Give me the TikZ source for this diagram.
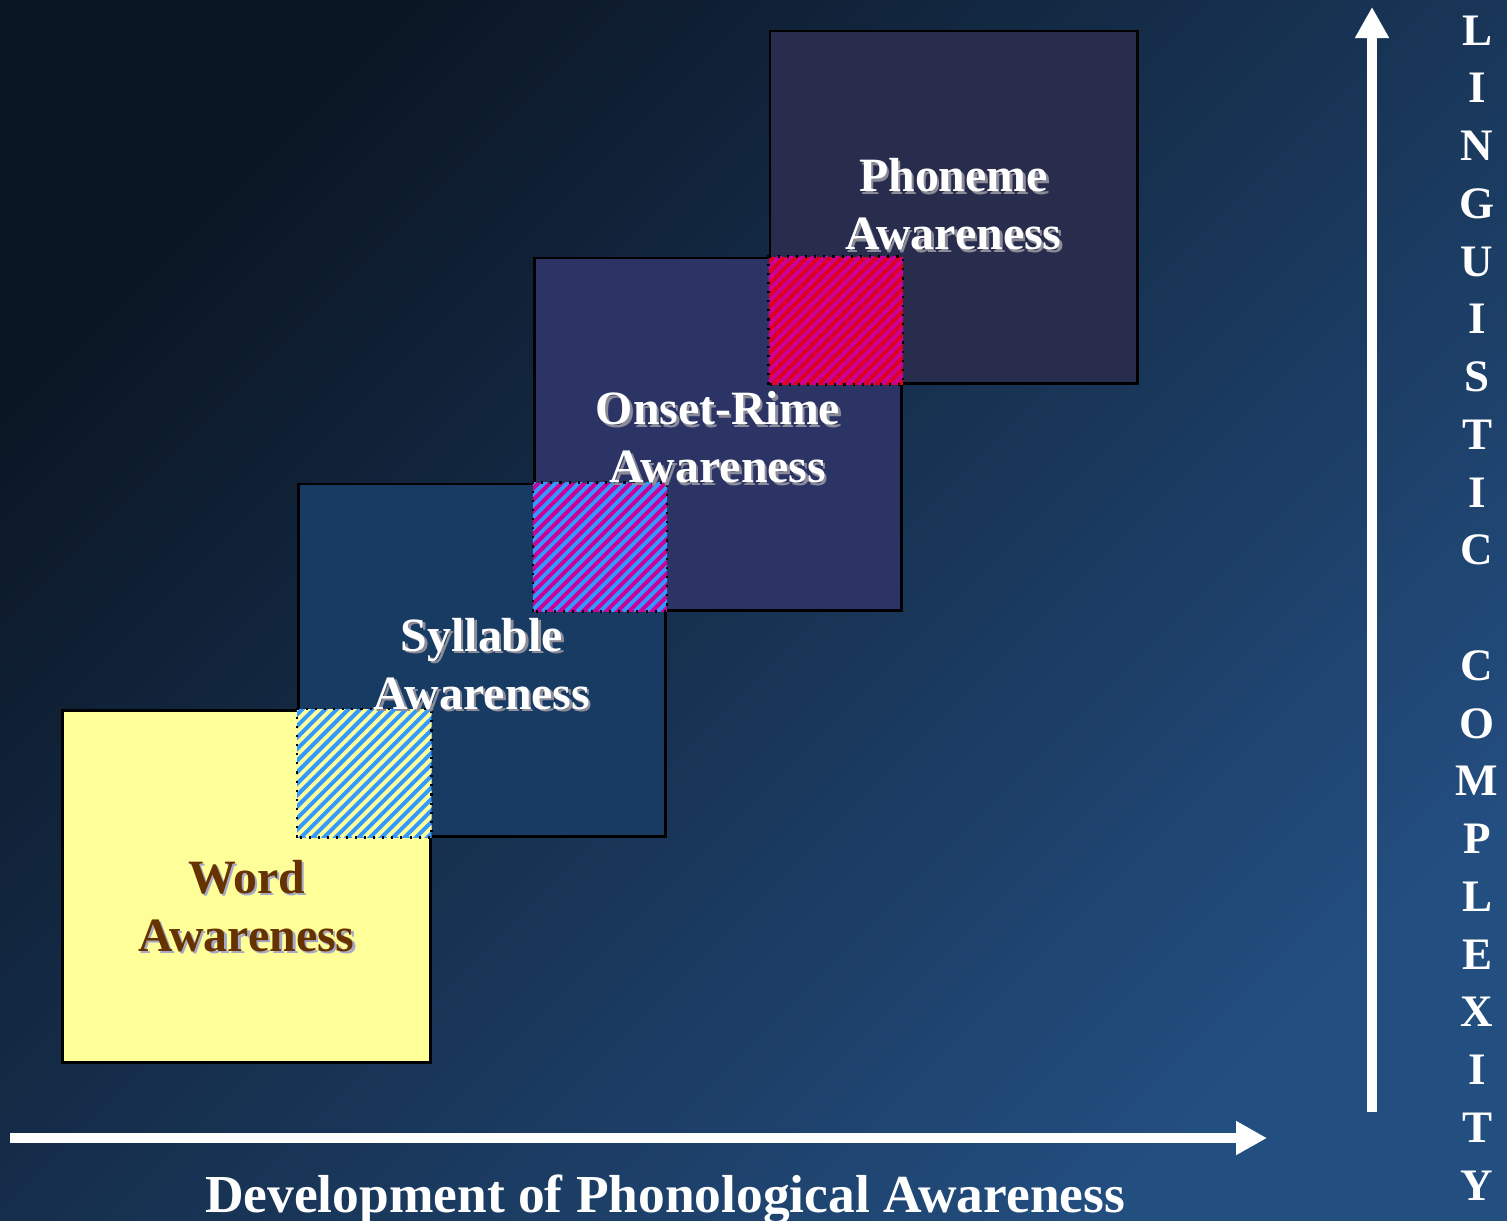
\documentclass[tikz,border=0pt]{standalone}
\usepackage{fontspec}
\setmainfont{Liberation Serif}
\usetikzlibrary{arrows.meta}
\definecolor{bgTop}{HTML}{0B1624}
\definecolor{bgMid}{HTML}{19395F}
\definecolor{bgBottom}{HTML}{234E80}
\definecolor{wordFill}{HTML}{FFFF99}
\definecolor{syllableFill}{HTML}{173B63}
\definecolor{onsetFill}{HTML}{2B3465}
\definecolor{phonemeFill}{HTML}{282D4E}
\definecolor{hatchBlue}{HTML}{3399FF}
\definecolor{hatchMagenta}{HTML}{CC0099}
\definecolor{hatchRed}{HTML}{DD0022}
\definecolor{wordText}{HTML}{663300}
\definecolor{wordShadow}{HTML}{A6A8C8}
\definecolor{labelShadow}{HTML}{8C8C99}
\newcommand{\boxWidth}{3.67cm}
\newcommand{\boxHeight}{3.52cm}
\newcommand{\stripeGap}{0.115cm}
\newcommand{\letterStep}{57.75}
% overlap of two boxes: upper box, lower box, base colour, stripe colour
\newcommand{\hatchOverlap}[4]{%
  \begin{scope}
    \clip (#1.south west) rectangle (#2.north east);
    \fill[#3] (#1.south west) rectangle (#2.north east);
    \foreach \k in {0,...,26}
      \draw[#4, line width=1.1pt] ([xshift=\k*\stripeGap-1.4cm]#1.south west) -- ++(150,-150);
  \end{scope}
  \draw[black, dotted, line width=0.6pt] (#1.south west) rectangle (#2.north east);}
% label with drop shadow: name, position, text, colour, shadow colour
\newcommand{\boxLabel}[5]{%
  \node[boxText, text=#5, xshift=0.025cm, yshift=-0.025cm] (#1-shadow) at #2 {#3};
  \node[boxText, text=#4] (#1) at #2 {#3};}

\tikzset{
  awareBox/.style={draw=black, line width=0.8pt, minimum width=\boxWidth,
    minimum height=\boxHeight, inner sep=0pt},
  boxText/.style={font=\fontsize{13.6}{16.5}\selectfont\bfseries, align=center, inner sep=0pt},
  axisArrow/.style={white, line width=0.1cm, -{Triangle[length=0.31cm,width=0.32cm]}},
  axisLetter/.style={white, font=\fontsize{12.8}{14}\selectfont\bfseries, inner sep=0pt},
  axisTitle/.style={white, font=\fontsize{15.2}{18}\selectfont\bfseries, inner sep=0pt}
}

\begin{document}
\begin{tikzpicture}[x=0.01cm, y=-0.01cm]
  \shade[top color=bgTop, middle color=bgMid, bottom color=bgBottom, shading angle=45]
    (0,0) rectangle (1507,1220);
  \useasboundingbox (0,0) rectangle (1507,1220);

  \node[awareBox, fill=phonemeFill] (phoneme) at (953.5,207) {};
  \node[awareBox, fill=onsetFill] (onset) at (718,434) {};
  \node[awareBox, fill=syllableFill] (syllable) at (482,660) {};
  \node[awareBox, fill=wordFill] (word) at (246.5,886.5) {};

  \hatchOverlap{syllable}{word}{hatchBlue}{wordFill}
  \hatchOverlap{onset}{syllable}{hatchMagenta}{hatchBlue}
  \hatchOverlap{phoneme}{onset}{hatchRed}{hatchMagenta}

  \boxLabel{phonemeText}{([yshift=0.025cm]phoneme.center)}{Phoneme\\Awareness}{white}{labelShadow}
  \boxLabel{onsetText}{([yshift=-0.035cm]onset.center)}{Onset-Rime\\Awareness}{white}{labelShadow}
  \boxLabel{syllableText}{([yshift=-0.04cm]syllable.center)}{Syllable\\Awareness}{white}{labelShadow}
  \boxLabel{wordText}{([yshift=-0.195cm]word.center)}{Word\\Awareness}{wordText}{wordShadow}

  \coordinate (xstart) at (10,1138);
  \coordinate (xend) at (1267,1138);
  \coordinate (ystart) at (1372,1112);
  \coordinate (yend) at (1372,7);
  \draw[axisArrow] (xstart) -- (xend);
  \draw[axisArrow] (ystart) -- (yend);

  \node[axisTitle, anchor=base] (xlabel) at (665,1212) {Development of Phonological Awareness};
  \foreach \ch [count=\i from 0] in {L,I,N,G,U,I,S,T,I,C,{},C,O,M,P,L,E,X,I,T,Y}
    \node[axisLetter, anchor=base] (ylabel\i) at (1477,{45+\i*\letterStep}) {\ch};
\end{tikzpicture}
\end{document}
